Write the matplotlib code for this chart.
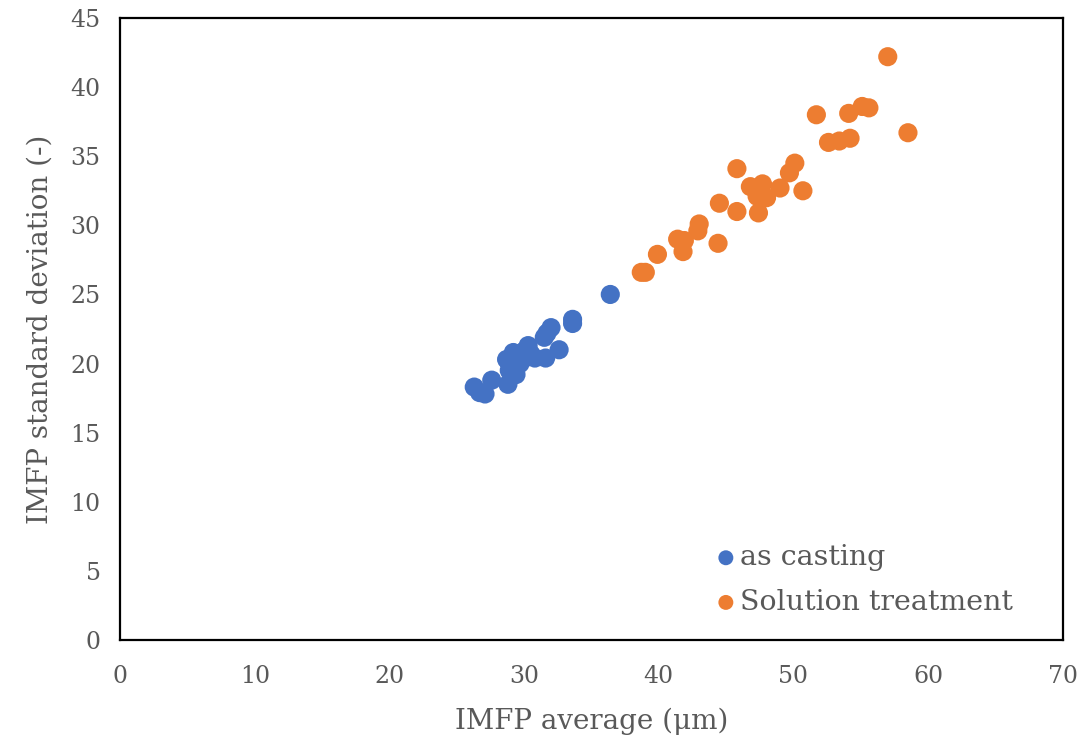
import matplotlib.pyplot as plt

# IMFP average (um) vs standard deviation (-)
cast_avg = [26.3, 26.7, 27.1, 27.6, 28.8, 28.7, 28.9, 29.2, 29.4, 29.7, 28.9, 29.5,
            30.3, 30.0, 30.8, 31.6, 31.5, 31.7, 32.0, 32.6, 33.6, 33.6, 36.4,
            29.9, 30.5, 29.1]
cast_sd = [18.3, 17.9, 17.8, 18.8, 18.5, 20.3, 19.5, 20.8, 19.2, 20.0, 20.0, 20.6,
           21.3, 20.9, 20.4, 20.4, 21.9, 22.2, 22.6, 21.0, 23.2, 22.9, 25.0,
           20.3, 20.7, 19.8]

sol_avg = [38.7, 39.0, 39.9, 41.4, 41.9, 41.8, 43.0, 42.9, 44.4, 44.5, 45.8, 45.8,
           46.8, 47.7, 47.3, 48.0, 47.4, 49.0, 50.7, 49.7, 50.1, 51.7, 52.6,
           53.4, 54.2, 54.1, 55.1, 55.6, 58.5, 57.0]
sol_sd = [26.6, 26.6, 27.9, 29.0, 28.9, 28.1, 30.1, 29.6, 28.7, 31.6, 34.1, 31.0,
          32.8, 33.0, 32.1, 32.0, 30.9, 32.7, 32.5, 33.8, 34.5, 38.0, 36.0,
          36.1, 36.3, 38.1, 38.6, 38.5, 36.7, 42.2]

x_ticks = [0, 10, 20, 30, 40, 50, 60, 70]
y_ticks = [0, 5, 10, 15, 20, 25, 30, 35, 40, 45]

text_color = "#595959"
plt.rcParams["font.family"] = ["DejaVu Serif"]

fig = plt.figure(figsize=(10.85, 7.47), dpi=100)
ax = fig.add_axes([0.1106, 0.1432, 0.869, 0.8327])

ax.scatter(cast_avg, cast_sd, s=190, color="#4472C4", edgecolors="none",
           label="as casting", zorder=3)
ax.scatter(sol_avg, sol_sd, s=190, color="#ED7D31", edgecolors="none",
           label="Solution treatment", zorder=3)

ax.set_xlim(0, 70)
ax.set_ylim(0, 45)
ax.set_xticks(x_ticks)
ax.set_yticks(y_ticks)
ax.tick_params(length=0, labelsize=17, colors=text_color, pad=14)
ax.tick_params(axis="x", pad=18)

for sp in ax.spines.values():
    sp.set_color("black")
    sp.set_linewidth(1.6)

ax.set_xlabel("IMFP average (\u03bcm)", fontsize=20, color=text_color, labelpad=14)
ax.set_ylabel("IMFP standard deviation (-)", fontsize=20, color=text_color, labelpad=12)

leg = ax.legend(loc="upper left", bbox_to_anchor=(0.632, 0.154), frameon=False,
                fontsize=20.5, handletextpad=0.15, handlelength=0.7,
                labelspacing=0.62, markerscale=0.78, borderpad=0, borderaxespad=0)
for t in leg.get_texts():
    t.set_color(text_color)

fig.savefig("out.png", dpi=100)
